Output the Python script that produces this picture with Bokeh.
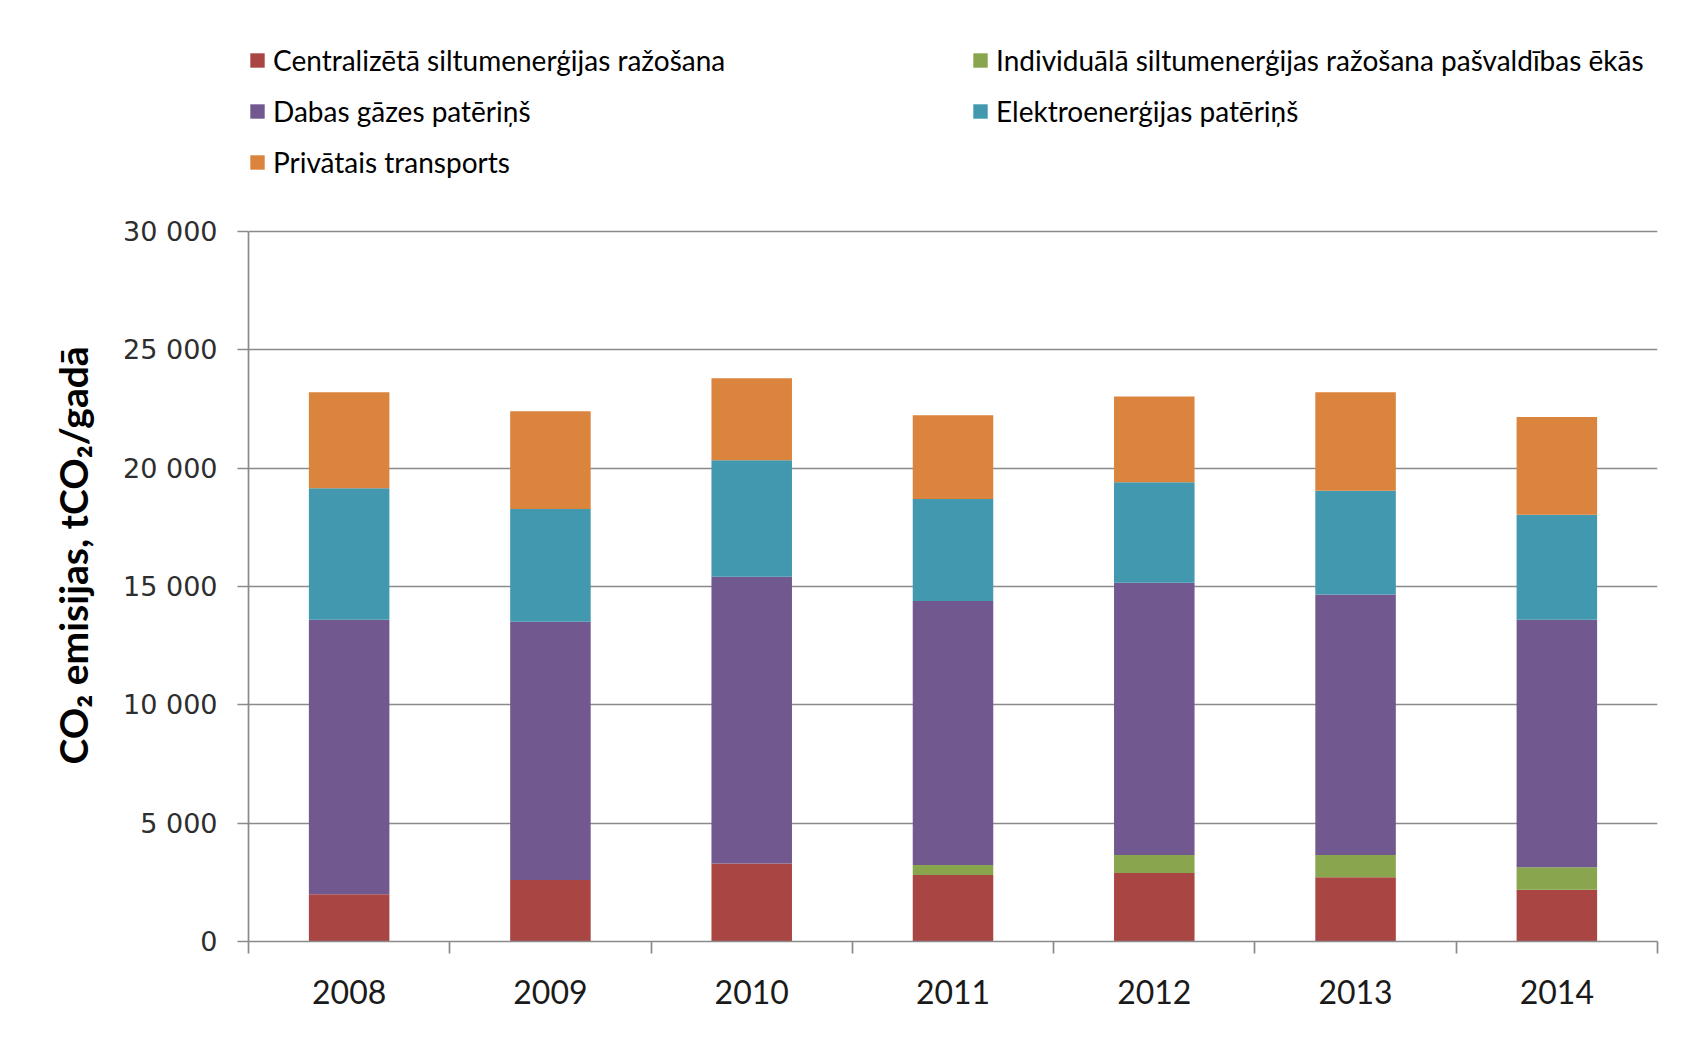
from bokeh.plotting import figure
from bokeh.models import (ColumnDataSource, FixedTicker, Legend, LegendItem, Range1d,
                          Title)
from bokeh.embed import file_html
from bokeh.resources import INLINE

# ---------------- data ----------------
years = ["2008", "2009", "2010", "2011", "2012", "2013", "2014"]
centralizeta = [2000, 2600, 3300, 2810, 2890, 2710, 2190]
individuala = [0, 0, 0, 420, 770, 950, 950]
dabas_gaze = [11600, 10910, 12110, 11160, 11500, 11000, 10460]
elektro = [5550, 4760, 4930, 4310, 4240, 4390, 4430]
transports = [4060, 4140, 3460, 3540, 3630, 4160, 4130]

series_names = [
    "Centralizētā siltumenerģijas ražošana",
    "Individuālā siltumenerģijas ražošana pašvaldības ēkās",
    "Dabas gāzes patēriņš",
    "Elektroenerģijas patēriņš",
    "Privātais transports",
]
colors = ["#A94643", "#89A54E", "#71588F", "#4198AF", "#DB843D"]

y_ticks = [0, 5000, 10000, 15000, 20000, 25000, 30000]
y_tick_labels = ["0", "5 000", "10 000", "15 000", "20 000", "25 000", "30 000"]
y_title = "CO₂ emisijas, tCO₂/gadā"

# ---------------- figure ----------------
n = len(years)
xs = list(range(1, n + 1))
keys = ["s0", "s1", "s2", "s3", "s4"]
source = ColumnDataSource(data=dict(x=xs, s0=centralizeta, s1=individuala,
                                    s2=dabas_gaze, s3=elektro, s4=transports))

# the frame reaches the top of the canvas so that the legend (drawn inside it)
# sits above the 30 000 line; the axis itself is bounded to 0..30 000
p = figure(width=1684, height=1024, output_backend="svg", toolbar_location=None,
           x_range=Range1d(0.5, n + 0.5), y_range=Range1d(0, 39761),
           min_border_left=248, min_border_right=27, min_border_top=0,
           min_border_bottom=83)
p.outline_line_color = None
p.background_fill_color = "white"
p.border_fill_color = "white"

renderers = p.vbar_stack(keys, x="x", width=0.4, color=colors, line_color=None,
                         source=source)

# grid
p.xgrid.visible = False
p.ygrid.ticker = FixedTicker(ticks=y_ticks)
p.ygrid.grid_line_color = "#8a8a8a"
p.ygrid.grid_line_width = 1.7

# y axis
ya = p.yaxis[0]
ya.bounds = (0, 30000)
ya.ticker = FixedTicker(ticks=y_ticks)
ya.major_label_overrides = {t: l for t, l in zip(y_ticks, y_tick_labels)}
ya.axis_line_color = "#8a8a8a"
ya.axis_line_width = 1.7
ya.major_tick_line_color = "#8a8a8a"
ya.major_tick_line_width = 1.7
ya.major_tick_out = 11
ya.major_tick_in = 0
ya.minor_tick_line_color = None
ya.major_label_standoff = 20
ya.major_label_text_font = "DejaVu Sans"
ya.major_label_text_font_size = "27px"
ya.major_label_text_color = "#2e2e2e"

# y title (in the left panel, placed along the 0..30 000 part of the axis)
p.add_layout(Title(text=y_title, align="left", offset=177, standoff=50,
                   text_font="Lato", text_font_style="bold", text_font_size="39px",
                   text_color="#000000"), "left")

# x axis: labels at bar centres, tick marks between categories
xa = p.xaxis[0]
xa.ticker = FixedTicker(ticks=xs, minor_ticks=[i + 0.5 for i in range(0, n + 1)])
xa.major_label_overrides = {x: y for x, y in zip(xs, years)}
xa.axis_line_color = "#8a8a8a"
xa.axis_line_width = 1.7
xa.major_tick_line_color = None
xa.major_tick_out = 0
xa.major_tick_in = 0
xa.minor_tick_line_color = "#8a8a8a"
xa.minor_tick_line_width = 1.7
xa.minor_tick_out = 12
xa.minor_tick_in = 0
xa.major_label_standoff = 26
xa.major_label_text_font = "Lato"
xa.major_label_text_font_size = "32px"
xa.major_label_text_color = "#1a1a1a"


def make_legend(idx, loc):
    lg = Legend(items=[LegendItem(label=series_names[i], renderers=[renderers[i]])
                       for i in idx],
                location=loc, orientation="vertical")
    lg.border_line_color = None
    lg.background_fill_alpha = 0
    lg.padding = 0
    lg.margin = 0
    lg.glyph_width = 18
    lg.glyph_height = 18
    lg.label_standoff = 7
    lg.label_height = 30
    lg.spacing = 17
    lg.label_text_font = "Lato"
    lg.label_text_font_size = "28px"
    lg.label_text_color = "#000000"
    return lg


p.add_layout(make_legend([0, 2, 4], (0, 762)))
p.add_layout(make_legend([1, 3], (723, 813)))

open("out.html", "w").write(file_html(p, INLINE))
